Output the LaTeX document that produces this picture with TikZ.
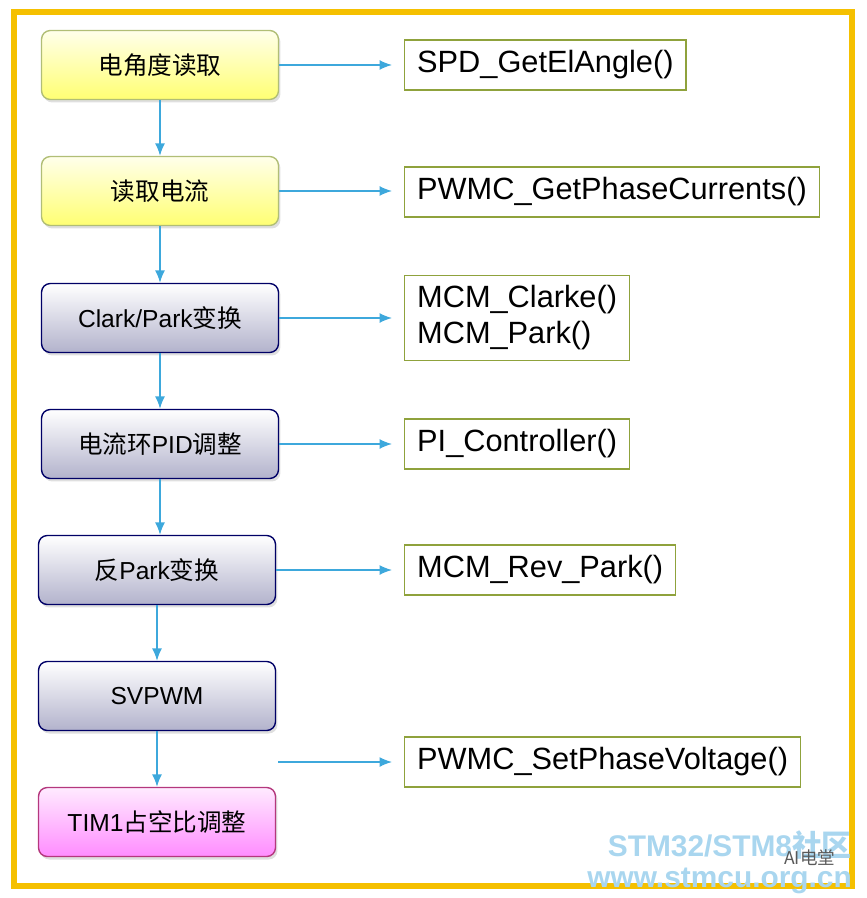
\documentclass[tikz,border=0pt]{standalone}
\usepackage{fontspec}
\setmainfont{Liberation Sans}
\newfontfamily\cjk{Noto Sans CJK SC}
\usepackage{tikz}
\usetikzlibrary{shadows,arrows.meta}
\definecolor{frameGold}{HTML}{F5C000}
\definecolor{arrowBlue}{HTML}{3DA8DC}
\definecolor{boxOlive}{HTML}{8FA23C}
\definecolor{markBlue}{HTML}{A9D6EF}

\begin{document}
\begin{tikzpicture}[
  x=0.02cm, y=-0.02cm,
  stage/.style={
    draw, rounded corners=5pt, line width=0.8pt,
    minimum width=4.74cm, minimum height=1.38cm,
    font=\fontsize{14}{16}\selectfont,
    drop shadow={opacity=0.25, shadow xshift=0.4mm, shadow yshift=-0.6mm},
  },
  yellowStage/.style={stage, draw=boxOlive!70, top color=yellow!8, bottom color=yellow!55!white},
  blueStage/.style={stage, draw=blue!40!black, top color=white, bottom color=blue!20!gray!50},
  pinkStage/.style={stage, draw=magenta!70!black, top color=magenta!8, bottom color=magenta!45},
  func/.style={
    draw=boxOlive, line width=0.8pt, anchor=west, align=left,
    inner xsep=0.25cm, minimum height=1cm,
    font=\fontsize{17.5}{20.5}\selectfont,
  },
  flow/.style={draw=arrowBlue, line width=0.8pt, -{Latex[length=2.5mm,width=2mm]}},
]
\useasboundingbox (0,0) rectangle (866,898);
\draw[frameGold, line width=3pt] (14,12) rectangle (852,886);

% steps on the left
\node[yellowStage] (angle) at (160,65) {\cjk 电角度读取};
\node[yellowStage] (current) at (160,191) {\cjk 读取电流};
\node[blueStage] (clark) at (160,318) {Clark/Park{\cjk 变换}};
\node[blueStage] (pid) at (160,444) {{\cjk 电流环}PID{\cjk 调整}};
\node[blueStage] (revpark) at (157,570) {{\cjk 反}Park{\cjk 变换}};
\node[blueStage] (svpwm) at (157,696) {SVPWM};
\node[pinkStage] (tim) at (157,822) {TIM1{\cjk 占空比调整}};

% functions on the right
\node[func] (fAngle) at (404,65) {SPD\_GetElAngle()};
\node[func] (fCurrent) at (404,192) {PWMC\_GetPhaseCurrents()};
\node[func, minimum height=1.7cm] (fClark) at (404,318) {MCM\_Clarke()\\MCM\_Park()};
\node[func] (fPid) at (404,444) {PI\_Controller()};
\node[func] (fRev) at (404,570) {MCM\_Rev\_Park()};
\node[func] (fSet) at (404,762) {PWMC\_SetPhaseVoltage()};
\coordinate (setFrom) at (278,762);

\foreach \a/\b in {angle/current,current/clark,clark/pid,pid/revpark,revpark/svpwm,svpwm/tim}
  \draw[flow] (\a.south) -- (\a.south |- \b.north);
\foreach \a/\b in {angle/fAngle,current/fCurrent,clark/fClark,pid/fPid,revpark/fRev}
  \draw[flow] (\a.east) -- ([xshift=-0.24cm]\a.east -| \b.west);
\draw[flow] (setFrom) -- ([xshift=-0.24cm]fSet.west);

% watermark
\node[markBlue, font=\bfseries\fontsize{17}{18}\selectfont, anchor=south east] (mark1) at (858,866) {STM32/STM8{\cjk 社区}};
\node[markBlue, font=\bfseries\fontsize{17}{18}\selectfont, anchor=north east] (mark2) at (858,862) {www.stmcu.org.cn};
\node[gray!70!black, font=\cjk\fontsize{10}{11}\selectfont, anchor=west] (mark3) at (778,858) {AI电堂};
\end{tikzpicture}
\end{document}
